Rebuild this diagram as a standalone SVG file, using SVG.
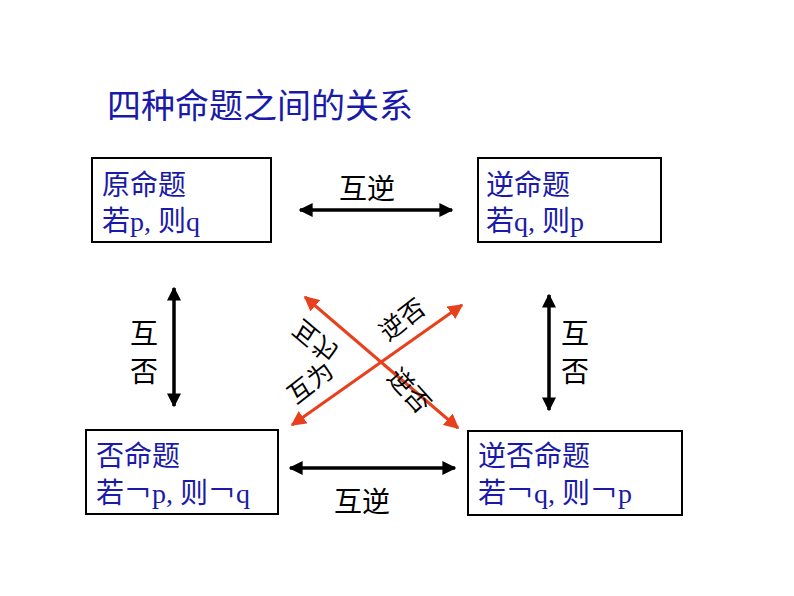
<svg xmlns="http://www.w3.org/2000/svg" width="794" height="596" viewBox="0 0 794 596">
<style>
.t{font-family:"Liberation Serif","Noto Sans CJK SC",serif;font-size:28px;fill:#1a1aa8}
.k{font-family:"Liberation Serif","Noto Sans CJK SC",serif;font-size:28px;fill:#000}
.c{font-family:"Liberation Serif","Noto Sans CJK SC",serif;font-size:25px;fill:#000}
.box{fill:#fff;stroke:#000;stroke-width:2}
.b{stroke:#000;stroke-width:3.5;marker-start:url(#ab);marker-end:url(#ab)}
.r{stroke:#e8401c;stroke-width:3;marker-start:url(#ar);marker-end:url(#ar)}
</style>
<defs>
<marker id="ab" viewBox="0 0 10 10" refX="9" refY="5" markerWidth="4" markerHeight="4" orient="auto-start-reverse"><path d="M0,0L10,5L0,10z" fill="#000"/></marker>
<marker id="ar" viewBox="0 0 10 10" refX="9" refY="5" markerWidth="5" markerHeight="5" orient="auto-start-reverse"><path d="M0,0L10,5L0,10z" fill="#e8401c"/></marker>
</defs>
<rect width="794" height="596" fill="#fff"/>
<text x="107" y="118" class="t" style="font-size:34px">四种命题之间的关系</text>
<g id="n1"><rect class="box" x="92" y="158" width="179" height="84"/><text class="t" x="102" y="195">原命题</text><text class="t" x="102" y="231">若p, 则q</text></g>
<g id="n2"><rect class="box" x="478" y="158" width="183" height="84"/><text class="t" x="486" y="195">逆命题</text><text class="t" x="486" y="231">若q, 则p</text></g>
<g id="n3"><rect class="box" x="86" y="430" width="192" height="84"/><text class="t" x="96" y="466">否命题</text><text class="t" x="96" y="503">若￢p, 则￢q</text></g>
<g id="n4"><rect class="box" x="468" y="431" width="214" height="84"/><text class="t" x="478" y="466">逆否命题</text><text class="t" x="478" y="503">若￢q, 则￢p</text></g>
<g id="connectors">
<line class="b" x1="300" y1="210" x2="452" y2="210"/>
<line class="b" x1="290" y1="468" x2="455" y2="468"/>
<line class="b" x1="174" y1="288" x2="174" y2="406"/>
<line class="b" x1="549" y1="295" x2="549" y2="410"/>
<line class="r" x1="292" y1="425" x2="462" y2="305"/>
<line class="r" x1="305" y1="297" x2="458" y2="428"/>
<text class="k" x="339" y="199">互逆</text>
<text class="k" x="334" y="512">互逆</text>
<text class="k" x="130" y="344">互</text><text class="k" x="130" y="382">否</text>
<text class="k" x="561" y="344">互</text><text class="k" x="561" y="382">否</text>
<text class="c" transform="translate(302,318) rotate(40) scale(1,-1)">互为</text>
<text class="c" transform="translate(296,405) rotate(-38)">互为</text>
<text class="c" transform="translate(388,342) rotate(-38)">逆否</text>
<text class="c" transform="translate(386,378) rotate(48)">逆否</text>
</g>
</svg>
